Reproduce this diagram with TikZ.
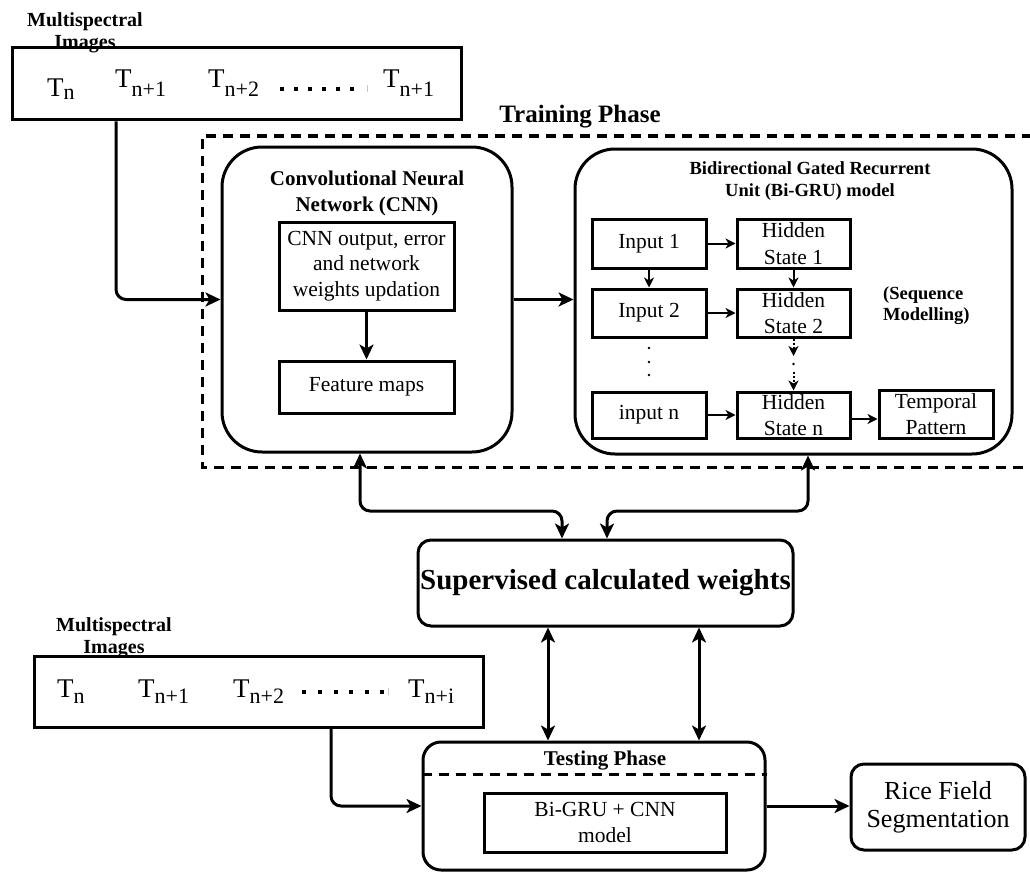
\documentclass[tikz,border=0pt]{standalone}
\usepackage{fontspec}
\setmainfont{Liberation Serif}
\usetikzlibrary{arrows.meta}
\newcommand{\fs}[2]{\fontsize{#1}{#2}\selectfont}
% T with a lowered index of the same family
\newcommand{\Tsub}[2]{T\raisebox{-#1pt}{\fs{22}{22}#2}}

\begin{document}
\begin{tikzpicture}[x=1pt,y=-1pt,
  every node/.style={inner sep=0pt},
  lbl/.style={font=\bfseries\fs{20}{21.5}, align=center},
  tfont/.style={font=\fs{27}{27}, anchor=base west},
  sbox/.style={draw, line width=3pt, align=center, font=\fs{21.5}{25.5}},
  hbox/.style={sbox, font=\fs{21.5}{26.5}},
  bigr/.style={draw, line width=3pt, rounded corners=40pt},
  rbox/.style={draw, line width=3pt, rounded corners=13pt, align=center},
  dashbox/.style={line width=3pt, dash pattern=on 10pt off 7pt},
  tipL/.tip={Stealth[length=15pt,width=14pt,inset=4pt]},
  tipS/.tip={Stealth[length=10pt,width=10pt,inset=3pt]},
  arr/.style={line width=3pt, rounded corners=10pt, -tipL},
  darr/.style={line width=3pt, rounded corners=10pt, tipL-tipL},
  sarr/.style={line width=2pt, -tipS},
  squaredot/.style={fill=black}
]
\useasboundingbox (0,0) rectangle (1030,872);

% ---------- training frame ----------
\draw[dashbox] (1032,136) -| (202,467) -- (1032,467);
\node[font=\bfseries\fs{25}{25}, anchor=base] (train) at (580,122) {Training Phase};

% ---------- upper image sequence ----------
\node[lbl] (mlA) at (85,33) {Multispectral\\Images};
\node[draw, line width=3pt, minimum width=449, minimum height=72] (imgA) at (236.5,84) {};
\node[tfont] (ta1) at (47,97) {\Tsub{3}{n}};
\node[tfont] (ta2) at (115,88) {\Tsub{9}{n+1}};
\node[tfont] (ta3) at (208,88) {\Tsub{9}{n+2}};
\node[tfont] (ta4) at (383,88) {\Tsub{9}{n+1}};
\foreach \px in {282,296,310,324,338,352}
  \fill[squaredot] (\px-2.3,86.7) rectangle (\px+2.3,91.3);
\draw[gray!45, line width=0.8pt] (367,85) -- (367,92);

% ---------- CNN block ----------
\node[bigr, minimum width=290, minimum height=305] (cnn) at (367,299.5) {};
\node[font=\bfseries\fs{21}{26}, align=center] (cnnt) at (367,193) {Convolutional Neural\\Network (CNN)};
\node[sbox, minimum width=175, minimum height=88] (cnnin) at (366.5,266)
  {CNN output, error\\and network\\weights updation};
\node[sbox, minimum width=175, minimum height=52] (fmap) at (366.5,387) {Feature maps};
\draw[arr] (cnnin.south) -- (fmap.north);

% ---------- Bi-GRU block ----------
\node[bigr, minimum width=437, minimum height=305] (gru) at (793.5,301.5) {};
\node[font=\bfseries\fs{18.5}{22}, align=center] (grut) at (810,181)
  {Bidirectional Gated Recurrent\\Unit (Bi-GRU) model};
\node[sbox, minimum width=114, minimum height=49] (in1) at (649,243.5) {Input 1};
\node[hbox, minimum width=113, minimum height=49] (hs1) at (793.5,243.5) {Hidden\\State 1};
\node[sbox, minimum width=114, minimum height=48] (in2) at (649,313) {Input 2};
\node[hbox, minimum width=113, minimum height=48] (hs2) at (793.5,313) {Hidden\\State 2};
\node[sbox, minimum width=114, minimum height=46] (inn) at (649,415) {input n};
\node[hbox, minimum width=113, minimum height=46] (hsn) at (793.5,415) {Hidden\\State n};
\node[hbox, minimum width=114, minimum height=48] (tp) at (936,414) {Temporal\\Pattern};
\node[font=\bfseries\fs{18.5}{21}, align=left, anchor=west] (seq) at (883,306) {(Sequence\\Modelling)};

\draw[sarr] (in1.east) -- (hs1.west);
\draw[sarr] (in1.south) -- (in2.north);
\draw[sarr] (hs1.south) -- (hs2.north);
\draw[sarr] (in2.east) -- (hs2.west);
\draw[sarr] (inn.east) -- (hsn.west);
\draw[sarr] ([yshift=-4pt]hsn.east) -- ([yshift=-4pt]hsn.east -| tp.west);
\coordinate (dA) at (793.5,356);
\coordinate (dB) at (793.5,372);
\draw[sarr, dotted] (hs2.south) -- (dA);
\fill (793.5,364) circle (1.3pt);
\draw[sarr, dotted] (dB) -- (hsn.north);
\foreach \py in {348,362,375}
  \fill (649,\py) circle (1.3pt);

% ---------- training connectors ----------
\draw[arr] ([xshift=-120.5pt]imgA.south) |- (cnn.west);
\draw[arr] (cnn.east) -- (cnn.east -| gru.west);

% ---------- supervised weights ----------
\node[rbox, minimum width=375, minimum height=86, font=\bfseries\fs{29}{29}] (sup) at (605.5,583)
  {Supervised calculated weights};
\coordinate (cl) at ([xshift=-7pt]cnn.south);
\coordinate (gl) at ([xshift=14.5pt]gru.south);
\draw[darr] (cl) -- (cl |- 0,511) -| ([xshift=-43.5pt]sup.north);
\draw[darr] (gl) -- (gl |- 0,511) -| ([xshift=1.5pt]sup.north);

% ---------- lower image sequence ----------
\node[lbl] (mlB) at (114,638) {Multispectral\\Images};
\node[draw, line width=3pt, minimum width=449, minimum height=71] (imgB) at (258.5,691.5) {};
\node[tfont] (tb1) at (57,697) {\Tsub{6}{n}};
\node[tfont] (tb2) at (138,697) {\Tsub{6}{n+1}};
\node[tfont] (tb3) at (233,697) {\Tsub{6}{n+2}};
\node[tfont] (tb4) at (408,697) {\Tsub{6}{n+i}};
\foreach \px in {304,320,336,351,367,382}
  \fill[squaredot] (\px-2.3,689.7) rectangle (\px+2.3,694.3);
\draw[gray!45, line width=0.8pt] (388,688) -- (388,695);

% ---------- testing phase ----------
\node[rbox, rounded corners=18pt, minimum width=342, minimum height=128] (test) at (594,806) {};
\node[font=\bfseries\fs{21}{21}, anchor=base] (testt) at (605,765) {Testing Phase};
\draw[dashbox] (test.west |- 0,774) -- (test.east |- 0,774);
\node[sbox, minimum width=242, minimum height=59] (gbin) at (605,822.5) {Bi-GRU + CNN\\model};
\node[rbox, minimum width=174, minimum height=86, font=\fs{26}{28}] (rice) at (938,807)
  {Rice Field\\Segmentation};

\draw[darr] ([xshift=-57.5pt]sup.south) -- ([xshift=-57.5pt]sup.south |- test.north);
\draw[darr] ([xshift=93.5pt]sup.south) -- ([xshift=93.5pt]sup.south |- test.north);
\draw[arr] ([xshift=72.5pt]imgB.south) |- (test.west);
\draw[arr] (test.east) -- (test.east -| rice.west);
\end{tikzpicture}
\end{document}
